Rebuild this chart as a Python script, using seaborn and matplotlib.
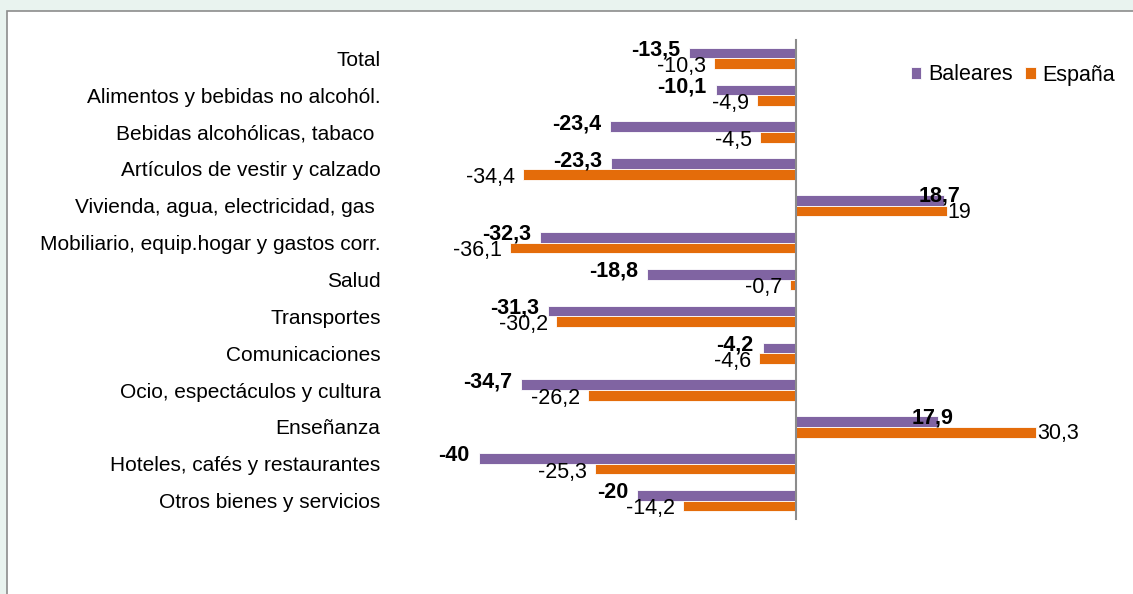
import seaborn as sns
import matplotlib.pyplot as plt
import matplotlib.patches as mpatches
import numpy as np
import pandas as pd

# Datos
categorias = [
    'Total',
    'Alimentos y bebidas no alcohól.',
    'Bebidas alcohólicas, tabaco ',
    'Artículos de vestir y calzado',
    'Vivienda, agua, electricidad, gas ',
    'Mobiliario, equip.hogar y gastos corr.',
    'Salud',
    'Transportes',
    'Comunicaciones',
    'Ocio, espectáculos y cultura',
    'Enseñanza',
    'Hoteles, cafés y restaurantes',
    'Otros bienes y servicios',
]
baleares = [-13.5, -10.1, -23.4, -23.3, 18.7, -32.3, -18.8, -31.3, -4.2, -34.7, 17.9, -40, -20]
espana = [-10.3, -4.9, -4.5, -34.4, 19, -36.1, -0.7, -30.2, -4.6, -26.2, 30.3, -25.3, -14.2]
series = ['Baleares', 'España']
colores = ['#8064A2', '#E46C0A']


def fmt(v):
    return f'{v:g}'.replace('.', ',')


df = pd.DataFrame({
    'categoria': categorias * 2,
    'valor': baleares + espana,
    'serie': [series[0]] * len(categorias) + [series[1]] * len(categorias),
})

sns.set_style('white')
plt.rcParams['font.family'] = ['Liberation Sans', 'DejaVu Sans']
plt.rcParams['text.color'] = 'black'
plt.rcParams['ytick.labelcolor'] = 'black'

fig = plt.figure(figsize=(11.33, 5.94), dpi=100)
fig.patch.set_facecolor('#e9f3ef')
# marco blanco del gráfico
marco = mpatches.Rectangle((7 / 1133, -0.05), 1.1, 1 - 11 / 594 + 0.05,
                           transform=fig.transFigure, facecolor='white',
                           edgecolor='#8c8c8c', linewidth=1.2, zorder=-5)
fig.add_artist(marco)

ax = fig.add_axes([399.5 / 1133, 1 - 519 / 594, 713.5 / 1133, 479 / 594])
ax.set_facecolor('none')
ax.set_zorder(2)

sns.barplot(data=df, y='categoria', x='valor', hue='serie', orient='h',
            palette=colores, saturation=1, width=0.58, edgecolor='white', linewidth=0.6,
            ax=ax, legend=True)

ax.set_xlim(-50, 40)
ax.set_ylim(len(categorias) - 0.5, -0.5)
ax.set_xlabel('')
ax.set_ylabel('')
ax.set_xticks([])

for s in ['top', 'right', 'bottom']:
    ax.spines[s].set_visible(False)
ax.spines['left'].set_position(('data', 0))
ax.spines['left'].set_color('#8c8c8c')
ax.spines['left'].set_linewidth(1.5)

ax.set_yticks(range(len(categorias)))
ax.set_yticklabels(categorias, fontsize=15, color='black')
ax.tick_params(axis='y', which='major', length=0, pad=299)
ax.set_yticks(np.arange(len(categorias) + 1) - 0.5, minor=True)
ax.tick_params(axis='y', which='minor', length=4, width=1.2, color='#8c8c8c', direction='out')

# Etiquetas de datos
px = 0.72
fs = 15.5
for i, cont in enumerate(ax.containers[:2]):
    for bar in cont:
        v = bar.get_width()
        yc = bar.get_y() + bar.get_height() / 2
        if i == 0:
            if v < 0:
                ax.annotate(fmt(v), (v, yc), xytext=(-9 * px, 3 * px), textcoords='offset points',
                            ha='right', va='center', fontsize=fs, fontweight='bold')
            else:
                ax.annotate(fmt(v), (v, yc), xytext=(-5 * px, 4 * px), textcoords='offset points',
                            ha='center', va='center', fontsize=fs, fontweight='bold')
        else:
            if v < 0:
                ax.annotate(fmt(v), (v, yc), xytext=(-8 * px, -3 * px), textcoords='offset points',
                            ha='right', va='center', fontsize=fs)
            else:
                ax.annotate(fmt(v), (v, yc), xytext=(1 * px, -1 * px), textcoords='offset points',
                            ha='left', va='center', fontsize=fs)

ax.legend(loc='center', bbox_to_anchor=(1013 / 1133, 1 - 75 / 594), bbox_transform=fig.transFigure,
          ncol=2, frameon=False, fontsize=fs, handlelength=0.5, handleheight=0.5,
          handletextpad=0.3, columnspacing=0.6)

fig.savefig('out.png', dpi=100, facecolor=fig.get_facecolor())
